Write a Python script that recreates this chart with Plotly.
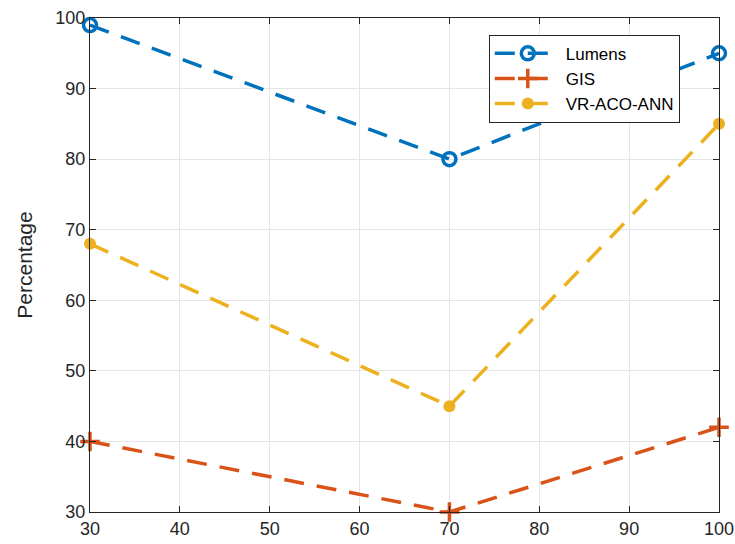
import plotly.graph_objects as go

x_vals = [30, 70, 100]
lumens = [99, 80, 95]
gis = [40, 30, 42]
vr_aco_ann = [68, 45, 85]
x_ticks = [30, 40, 50, 60, 70, 80, 90, 100]
y_ticks = [30, 40, 50, 60, 70, 80, 90, 100]

FONT = "Liberation Sans, Arial"
DASH = "20px,13px"

fig = go.Figure()
fig.add_trace(go.Scatter(x=x_vals, y=lumens, name="Lumens", mode="lines+markers",
                         line=dict(color="#0072BD", width=3.5, dash=DASH),
                         marker=dict(symbol="circle-open", size=13, line=dict(width=3.5, color="#0072BD")),
                         cliponaxis=False))
fig.add_trace(go.Scatter(x=x_vals, y=gis, name="GIS", mode="lines+markers",
                         line=dict(color="#D95319", width=3.5, dash=DASH),
                         marker=dict(symbol="cross-thin", size=14, line=dict(width=3.5, color="#D95319")),
                         cliponaxis=False))
fig.add_trace(go.Scatter(x=x_vals, y=vr_aco_ann, name="VR-ACO-ANN", mode="lines+markers",
                         line=dict(color="#EDB120", width=3.5, dash=DASH),
                         marker=dict(symbol="circle", size=12, color="#EDB120"),
                         cliponaxis=False))

axis_common = dict(showline=True, linecolor="#262626", linewidth=1.2, mirror="allticks",
                   ticks="inside", ticklen=6, tickcolor="#262626", automargin=False,
                   showgrid=True, gridcolor="#E5E5E5", gridwidth=1, zeroline=False,
                   tickfont=dict(family=FONT, size=18, color="#262626"))

fig.update_layout(
    width=735, height=544,
    margin=dict(l=90, r=16, t=18, b=32),
    paper_bgcolor="white", plot_bgcolor="white",
    xaxis=dict(range=[30, 100], tickvals=x_ticks, **axis_common),
    yaxis=dict(range=[30, 100], tickvals=y_ticks,
               title=dict(text="Percentage", font=dict(family=FONT, size=21, color="#262626"), standoff=16),
               **axis_common),
    legend=dict(x=0.634, y=0.966, xanchor="left", yanchor="top",
                bgcolor="white", bordercolor="#262626", borderwidth=1,
                font=dict(family=FONT, size=17, color="#000000"),
                tracegroupgap=0, itemwidth=66),
    showlegend=True,
)

fig.write_html("out.html")
